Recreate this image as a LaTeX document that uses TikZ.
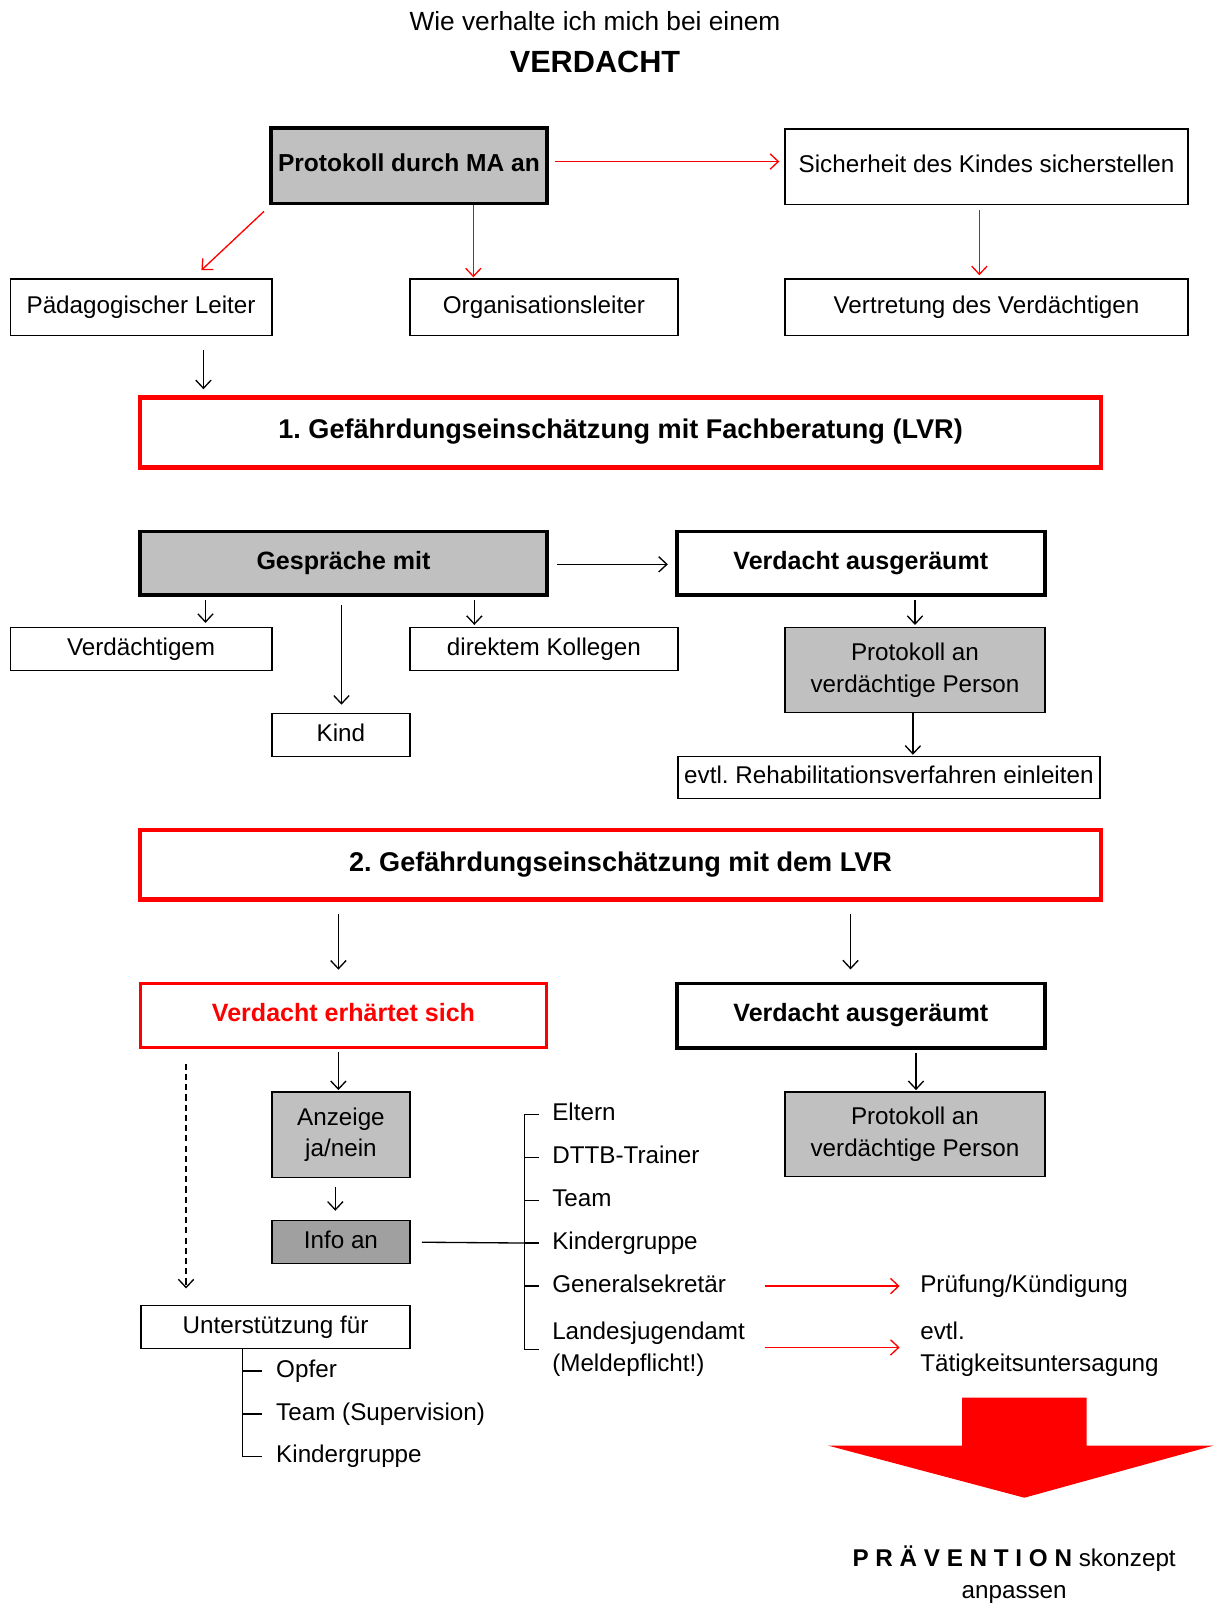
\documentclass[tikz,border=0pt]{standalone}
\usepackage{fontspec}
\setmainfont{Liberation Sans}
\usetikzlibrary{arrows.meta}
\frenchspacing
\definecolor{hellgrau}{RGB}{192,192,192}
\definecolor{dunkelgrau}{RGB}{160,160,160}
\tikzset{
  schrift/.style={font=\fontsize{23.7}{31}\selectfont},
  kasten/.style={draw, line width=1.4pt, align=center, schrift},
  zeile/.style={text height=17pt, text depth=5pt},
  grau/.style={fill=hellgrau},
  dick/.style={line width=3.5pt, font=\fontsize{24.5}{31}\selectfont\bfseries},
  rotdick/.style={draw=red, line width=4.5pt, font=\fontsize{26.5}{31}\selectfont\bfseries},
  eintrag/.style={schrift, zeile, anchor=west},
  linie/.style={line width=1.3pt},
  pfeil/.style={-{Straight Barb[length=8pt,width=15pt]}, line width=1.3pt},
  rotpfeil/.style={pfeil, draw=red}
}

\begin{document}
\begin{tikzpicture}[x=1pt, y=-1pt, every node/.style={inner sep=0pt}]
			\useasboundingbox (0,0) rectangle (1187,1568);
			%%%%% TITEL %%%%%
			\node[font=\fontsize{25.7}{28}\selectfont] (frage) at (582,21) {Wie verhalte ich mich bei einem};
			\node[font=\fontsize{30}{34}\selectfont\bfseries] (titel) at (582,61) {VERDACHT};
			
			%%%%% PROTOKOLL %%%%%
			\node[kasten, zeile, grau, dick, font=\fontsize{24}{31}\selectfont\bfseries, minimum width=270pt, minimum height=74pt] (prot) at (400,162) {Protokoll durch MA an};
			\node[kasten, zeile, minimum width=394pt, minimum height=74pt] (sich) at (965,163) {Sicherheit des Kindes sicherstellen};
			\node[kasten, zeile, minimum width=256pt, minimum height=55pt] (paed) at (138,300.5) {Pädagogischer Leiter};
			\node[kasten, zeile, minimum width=262pt, minimum height=55pt] (org) at (532,300.5) {Organisationsleiter};
			\node[kasten, zeile, minimum width=394pt, minimum height=55pt] (vert) at (965,300.5) {Vertretung des Verdächtigen};
			
			\draw[rotpfeil, shorten <=6pt, shorten >=5pt] ([yshift=4pt]prot.east) -- ([yshift=5pt]sich.west);
			\draw[rotpfeil] ([xshift=-5pt,yshift=-6pt]prot.south west) -- ([xshift=59pt,yshift=8pt]paed.north);
			\draw[rotpfeil, shorten >=1pt] ([xshift=63pt]prot.south) -- ([xshift=-69pt]org.north);
			\draw[rotpfeil, shorten <=5pt, shorten >=3pt] ([xshift=-7pt]sich.south) -- ([xshift=-7pt]vert.north);
			
			%%%%% 1. EINSCHAETZUNG %%%%%
			\node[kasten, zeile, rotdick, minimum width=940pt, minimum height=68pt] (gef1) at (607,423) {1. Gefährdungseinschätzung mit Fachberatung (LVR)};
			\draw[pfeil, shorten <=14pt, shorten >=6pt] ([xshift=61pt]paed.south) -- ([xshift=-408pt]gef1.north);
			
			%%%%% GESPRAECHE %%%%%
			\node[kasten, zeile, grau, dick, minimum width=398pt, minimum height=62pt] (gesp) at (336,551) {Gespräche mit};
			\node[kasten, zeile, dick, minimum width=360pt, minimum height=62pt] (ausg1) at (842,551) {Verdacht ausgeräumt};
			\node[kasten, zeile, minimum width=256pt, minimum height=42pt] (verd) at (138,635) {Verdächtigem};
			\node[kasten, zeile, minimum width=262pt, minimum height=42pt] (koll) at (532,635) {direktem Kollegen};
			\node[kasten, zeile, minimum width=135pt, minimum height=42pt] (kind) at (333.5,719) {Kind};
			\node[kasten, grau, minimum width=254pt, minimum height=83pt] (prot2) at (895,655.5) {Protokoll an\\verdächtige Person};
			\node[kasten, zeile, minimum width=413pt, minimum height=41pt] (reha) at (869.5,760.5) {evtl. Rehabilitationsverfahren einleiten};
			
			\draw[pfeil, shorten <=8pt, shorten >=7pt] ([yshift=-1pt]gesp.east) -- ([yshift=-1pt]ausg1.west);
			\draw[pfeil, shorten <=3pt, shorten >=4pt] ([xshift=-135pt]gesp.south) -- ([xshift=63pt]verd.north);
			\draw[pfeil, shorten <=8pt, shorten >=8pt] ([xshift=-2pt]gesp.south) -- ([xshift=0.5pt]kind.north);
			\draw[pfeil, shorten <=3pt, shorten >=2pt] ([xshift=128pt]gesp.south) -- ([xshift=-68pt]koll.north);
			\draw[pfeil, shorten <=3pt, shorten >=2pt] ([xshift=53pt]ausg1.south) -- (prot2.north);
			\draw[pfeil, shorten >=1pt] ([xshift=-2pt]prot2.south) -- ([xshift=23.5pt]reha.north);
			
			%%%%% 2. EINSCHAETZUNG %%%%%
			\node[kasten, zeile, rotdick, minimum width=940pt, minimum height=68pt] (gef2) at (607,846) {2. Gefährdungseinschätzung mit dem LVR};
			\node[kasten, zeile, dick, draw=red, line width=3pt, text=red, minimum width=398pt, minimum height=63pt] (erh) at (336,993.5) {Verdacht erhärtet sich};
			\node[kasten, zeile, dick, minimum width=360pt, minimum height=63pt] (ausg2) at (842,993.5) {Verdacht ausgeräumt};
			\node[kasten, grau, minimum width=135pt, minimum height=84pt] (anz) at (333.5,1110) {Anzeige\\ja/nein};
			\node[kasten, zeile, fill=dunkelgrau, minimum width=135pt, minimum height=42pt] (info) at (333.5,1215) {Info an};
			\node[kasten, grau, minimum width=254pt, minimum height=83pt] (prot3) at (895,1109.5) {Protokoll an\\verdächtige Person};
			\node[kasten, zeile, minimum width=263pt, minimum height=42pt] (unt) at (269.5,1298) {Unterstützung für};
			
			\draw[pfeil, shorten <=12pt, shorten >=12pt] ([xshift=-276pt]gef2.south) -- ([xshift=-5pt]erh.north);
			\draw[pfeil, shorten <=12pt, shorten >=12pt] ([xshift=225pt]gef2.south) -- ([xshift=-10pt]ausg2.north);
			\draw[pfeil, shorten <=3pt, shorten >=1pt] ([xshift=-5pt]erh.south) -- ([xshift=-2.5pt]anz.north);
			\draw[pfeil, shorten <=3pt, shorten >=1pt] ([xshift=54pt]ausg2.south) -- ([xshift=1pt]prot3.north);
			\draw[pfeil, shorten <=8pt, shorten >=9pt] ([xshift=-5.5pt]anz.south) -- ([xshift=-5.5pt]info.north);
			\draw[pfeil, dash pattern=on 6pt off 4pt, shorten <=14pt, shorten >=16pt] ([xshift=-154pt]erh.south) -- ([xshift=-87.5pt]unt.north);
			
			%%%%% INFO AN %%%%%
			\foreach \n/\y/\t in {eltern/1090/Eltern, dttb/1132/DTTB-Trainer, team/1174/Team, kgr/1216/Kindergruppe, gensek/1258/Generalsekretär}
				\node[eintrag] (\n) at (540,\y) {\t};
			\node[schrift, anchor=west, align=left] (landes) at (540,1320) {Landesjugendamt\\(Meldepflicht!)};
			\node[eintrag] (pruef) at (900,1258) {Prüfung/Kündigung};
			\node[schrift, anchor=west, align=left] (taet) at (900,1320) {evtl.\\Tätigkeitsuntersagung};
			
			\coordinate (istamm) at ([xshift=-27pt]eltern.west);
			\draw[linie] ([xshift=-13pt]eltern.west) -- (istamm) -- (istamm |- landes.west) -- ([xshift=-13pt]landes.west);
			\foreach \n in {dttb,team,kgr,gensek}
				\draw[linie] ([xshift=-27pt]\n.west) -- ([xshift=-13pt]\n.west);
			\draw[linie, shorten <=11pt] (info.east) -- ([xshift=-13pt]kgr.west);
			
			\draw[rotpfeil, shorten >=20pt] ([xshift=-152pt]pruef.west) -- (pruef.west);
			\draw[rotpfeil, shorten >=20pt] ([xshift=-152pt,yshift=2pt]taet.west) -- ([yshift=2pt]taet.west);
			
			%%%%% UNTERSTUETZUNG %%%%%
			\node[eintrag] (opfer) at (270,1341) {Opfer};
			\node[eintrag] (supteam) at (270,1383) {Team (Supervision)};
			\node[eintrag] (supkgr) at (270,1425) {Kindergruppe};
			
			\coordinate (ustamm) at ([xshift=-33pt]opfer.west);
			\draw[linie] (ustamm |- unt.south) -- (ustamm |- supkgr.west) -- ([xshift=-14pt]supkgr.west);
			\foreach \n in {opfer,supteam}
				\draw[linie] ([xshift=-33pt]\n.west) -- ([xshift=-14pt]\n.west);
			
			%%%%% PRAEVENTION %%%%%
			\fill[red] (941,1367) -- (1063,1367) -- (1063,1414) -- (1187,1414) -- (1002,1465) -- (810,1414) -- (941,1414) -- cycle;
			\node[schrift, align=center] (praev) at (992,1540) {\textbf{P R Ä V E N T I O N} skonzept\\anpassen};
			%%%%% END %%%%%
		\end{tikzpicture}
\end{document}
